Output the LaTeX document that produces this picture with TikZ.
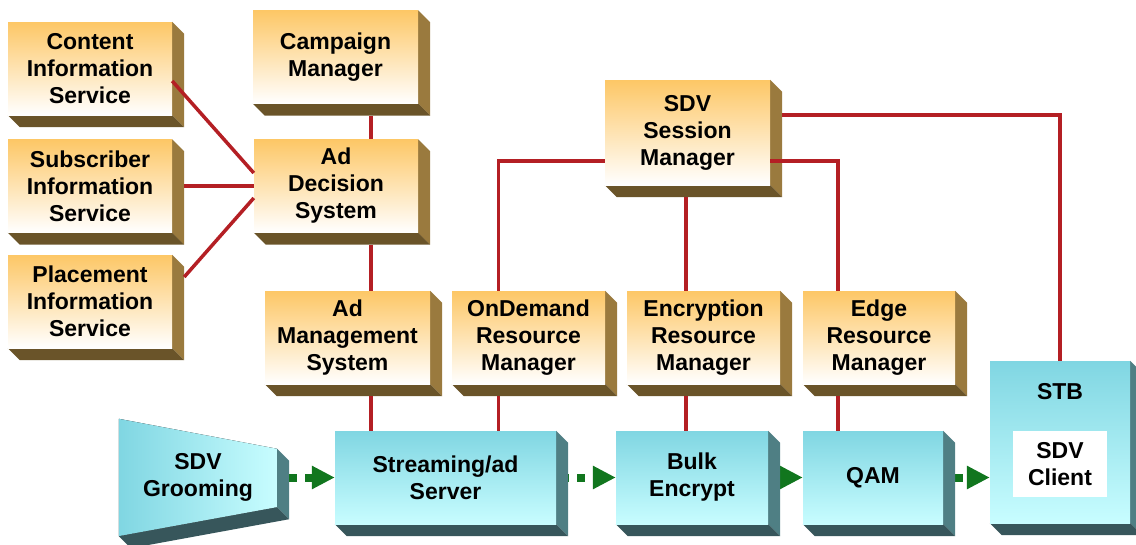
\documentclass[tikz,border=0pt]{standalone}
\usepackage{fontspec}
\setmainfont{Liberation Sans}
\usetikzlibrary{arrows.meta,backgrounds}
\definecolor{ortop}{HTML}{FDC766}
\definecolor{orside}{HTML}{9A7A3E}
\definecolor{orbase}{HTML}{6A5429}
\definecolor{cytop}{HTML}{80D6E2}
\definecolor{cylow}{HTML}{C8FDFF}
\definecolor{cyside}{HTML}{4F7F84}
\definecolor{cybase}{HTML}{37565B}
\definecolor{linkred}{HTML}{B41F24}
\definecolor{flowgreen}{HTML}{11761E}
\newcommand{\boxfont}{\bfseries\fontsize{23}{27}\selectfont}
\tikzset{
  faces/.style 2 args={append after command={\pgfextra{
      \fill[#1] (\tikzlastnode.north east) -- ++(12pt,-12pt)
        -- ([shift={(12pt,-12pt)}]\tikzlastnode.south east) -- (\tikzlastnode.south east) -- cycle;
      \fill[#2] (\tikzlastnode.south west) -- ++(12pt,-12pt)
        -- ([shift={(12pt,-12pt)}]\tikzlastnode.south east) -- (\tikzlastnode.south east) -- cycle;}}},
}
\begin{document}
\begin{tikzpicture}[x=1pt, y=-1pt,
    obox/.style={minimum width=165pt, minimum height=93pt, inner sep=0pt,
      align=center, font=\boxfont, top color=ortop, bottom color=white,
      faces={orside}{orbase}},
    cbox/.style={minimum width=152pt, minimum height=93pt, inner sep=0pt,
      align=center, font=\boxfont, top color=cytop, bottom color=cylow,
      faces={cyside}{cybase}},
    link/.style={draw=linkred, line width=3.5pt},
    flow/.style={draw=flowgreen, line width=8pt, -{Triangle[length=23pt,width=22pt]}},
    dashflow/.style={flow, dash pattern=on 8pt off 8pt}]
  \useasboundingbox (0,0) rectangle (1136,544);
  \node[obox, minimum width=164pt] (cis) at (90,68.5) {Content\\Information\\Service};
  \node[obox, minimum width=164pt] (sis) at (90,186) {Subscriber\\Information\\Service};
  \node[obox, minimum width=164pt] (pis) at (90,301.5) {Placement\\Information\\Service};
  \node[obox] (camp) at (335.5,57) {Campaign\\Manager};
  \node[obox, minimum width=164pt] (adds) at (336,186) {Ad\\Decision\\System};
  \node[obox] (ams) at (347.5,337.5) {Ad\\Management\\System};
  \node[obox, minimum width=153pt] (odrm) at (528.5,337.5) {OnDemand\\Resource\\Manager};
  \node[obox, minimum width=153pt] (erm) at (703.5,337.5) {Encryption\\Resource\\Manager};
  \node[obox, minimum width=152pt] (edrm) at (879,337.5) {Edge\\Resource\\Manager};
  \node[obox, minimum height=105pt] (ssm) at (687.5,132.5) {SDV\\Session\\Manager};
  \node[cbox, minimum width=221pt] (sas) at (445.5,477.5) {Streaming/ad\\Server};
  \node[cbox] (bulk) at (692,477.5) {Bulk\\Encrypt};
  \node[cbox, minimum width=140pt] (qam) at (873,477.5) {QAM};
  \node[cbox, minimum width=140pt, minimum height=162pt] (stb) at (1060,442) {};
  \node[font=\boxfont] (stblabel) at ([yshift=-31pt]stb.north) {STB};
  \node[fill=white, minimum width=94pt, minimum height=66pt, inner sep=0pt,
    align=center, font=\boxfont] (client) at ([yshift=-22pt]stb.center) {SDV\\Client};
  \node[minimum width=158pt, minimum height=117pt, inner sep=0pt, align=center,
    font=\boxfont] (groom) at (198,477.5) {SDV\\Grooming};
  \begin{scope}[on background layer]
    \fill[left color=cytop, right color=cylow] (groom.north west)
      -- ([yshift=-30pt]groom.north east) -- ([yshift=29pt]groom.south east)
      -- (groom.south west) -- cycle;
    \fill[cyside] ([yshift=-30pt]groom.north east) -- ++(12pt,-12pt)
      -- ([shift={(12pt,17pt)}]groom.south east) -- ([yshift=29pt]groom.south east) -- cycle;
    \fill[cybase] (groom.south west) -- ++(12pt,-12pt)
      -- ([shift={(12pt,17pt)}]groom.south east) -- ([yshift=29pt]groom.south east) -- cycle;
    \draw[dashflow] ([xshift=12pt]groom.east) -- (sas.west);
    \draw[dashflow] ([xshift=5pt]sas.east) -- (bulk.west);
    \draw[flow] (bulk.east) -- (qam.west);
    \draw[dashflow] ([xshift=12pt]qam.east) -- (qam.east -| stb.west);
  \end{scope}
  \draw[link] ([yshift=-12.5pt]cis.east) -- ([yshift=13pt]adds.west);
  \draw[link] ([xshift=12pt]sis.east) -- (adds.west);
  \draw[link] ([shift={(12pt,24.5pt)}]pis.east) -- ([yshift=-12pt]adds.west);
  \draw[link] ([shift={(35.5pt,-12pt)}]camp.south) -- ([xshift=35pt]adds.north);
  \draw[link] ([shift={(35pt,-12pt)}]adds.south) -- ([xshift=23.5pt]ams.north);
  \draw[link] ([shift={(23.5pt,-12pt)}]ams.south) -- ([xshift=-74.5pt]sas.north);
  \draw[link] ([shift={(-30pt,-12pt)}]odrm.south) -- ([xshift=53pt]sas.north);
  \draw[link] ([yshift=-28.5pt]ssm.west) -| ([xshift=-30pt]odrm.north);
  \draw[link] ([shift={(-1.5pt,-12pt)}]ssm.south) -- ([xshift=-17.5pt]erm.north);
  \draw[link] ([yshift=-28.5pt]ssm.east) -| ([xshift=-41pt]edrm.north);
  \draw[link] ([shift={(12pt,17.5pt)}]ssm.east) -| (stb.north);
  \draw[link] ([shift={(-17.5pt,-12pt)}]erm.south) -- ([xshift=-6pt]bulk.north);
  \draw[link] ([shift={(-41pt,-12pt)}]edrm.south) -- ([xshift=-35pt]qam.north);
\end{tikzpicture}
\end{document}
